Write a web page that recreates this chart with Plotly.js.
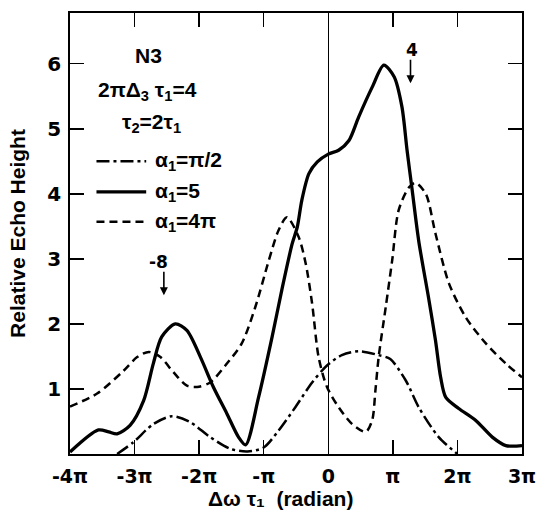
<!DOCTYPE html>
<html>
<head>
<meta charset="utf-8">
<script src="https://cdn.plot.ly/plotly-3.0.1.min.js"></script>
<style>html,body{margin:0;padding:0;background:#fff;}#chart{width:541px;height:512px;}</style>
</head>
<body>
<div id="chart"></div>
<script>
// x values are in units of pi radians (Δω τ1 / π)
const xTickVals = [-4, -3, -2, -1, 0, 1, 2, 3];
const xTickText = ["-4π", "-3π", "-2π", "-π", "0", "π", "2π", "3π"];
const yTickVals = [1, 2, 3, 4, 5, 6];

// α1 = 5 (solid)
const xA5 = [-4.0, -3.56, -3.4, -3.27, -3.07, -2.86, -2.71, -2.58, -2.37, -2.19, -1.98, -1.78, -1.57, -1.39, -1.28, -1.08, -0.87, -0.72, -0.56, -0.48, -0.41, -0.30, -0.17, 0.0, 0.16, 0.32, 0.47, 0.68, 0.86, 1.02, 1.14, 1.22, 1.30, 1.40, 1.56, 1.66, 1.74, 1.82, 2.02, 2.28, 2.54, 2.75, 3.0];
const yA5 = [0.03, 0.37, 0.34, 0.31, 0.44, 0.82, 1.39, 1.80, 2.00, 1.90, 1.49, 1.03, 0.62, 0.26, 0.14, 0.87, 1.80, 2.52, 3.23, 3.49, 3.90, 4.31, 4.49, 4.61, 4.67, 4.82, 5.18, 5.64, 5.98, 5.80, 5.34, 4.67, 4.05, 3.28, 2.36, 1.75, 1.18, 0.87, 0.70, 0.52, 0.26, 0.13, 0.13];

// α1 = 4π (dashed)
const xA4pi = [-4.0, -3.58, -3.17, -2.96, -2.78, -2.60, -2.40, -2.19, -2.03, -1.83, -1.57, -1.34, -1.13, -0.92, -0.77, -0.64, -0.46, -0.35, -0.25, -0.15, -0.02, 0.16, 0.37, 0.58, 0.68, 0.73, 0.78, 0.89, 0.99, 1.09, 1.25, 1.35, 1.51, 1.66, 1.87, 2.13, 2.44, 2.75, 3.0];
const yA4pi = [0.73, 0.93, 1.28, 1.49, 1.57, 1.49, 1.26, 1.05, 1.03, 1.10, 1.39, 1.70, 2.26, 2.98, 3.44, 3.64, 3.34, 2.93, 2.31, 1.49, 1.03, 0.72, 0.46, 0.34, 0.52, 0.98, 1.49, 2.26, 2.98, 3.75, 4.10, 4.17, 4.00, 3.39, 2.62, 2.10, 1.70, 1.39, 1.18];

// α1 = π/2 (dash-dot)
const xApi2 = [-3.27, -3.02, -2.71, -2.42, -2.14, -1.83, -1.52, -1.25, -1.0, -0.77, -0.51, -0.25, -0.02, 0.21, 0.47, 0.78, 0.96, 1.20, 1.40, 1.71, 2.0];
const yApi2 = [0, 0.18, 0.46, 0.58, 0.49, 0.26, 0.08, 0.04, 0.10, 0.36, 0.72, 1.10, 1.36, 1.52, 1.58, 1.52, 1.46, 1.13, 0.72, 0.26, 0];

// arrow markers (in radians): -8 and 4
const arrowRad = [-8, 4];
const arrowLabels = ["-8", "4"];
const arrowTipY = [2.44, 5.70];

const xTitle = "Δω τ₁  (radian)";
const yTitle = "Relative Echo Height";

const FONT = "'Liberation Sans', Arial, sans-serif";
const TICKFONT = "'DejaVu Sans', 'Liberation Sans', sans-serif";
const dashDot = "13px,4px,3px,4px";

const traces = [
  {x: xApi2, y: yApi2, mode: "lines", name: "α<sub>1</sub>=π/2",
   line: {color: "#000", width: 2.5, dash: dashDot, shape: "spline", smoothing: 0.8}},
  {x: xA5, y: yA5, mode: "lines", name: "α<sub>1</sub>=5",
   line: {color: "#000", width: 3.3, shape: "spline", smoothing: 0.8}},
  {x: xA4pi, y: yA4pi, mode: "lines", name: "α<sub>1</sub>=4π",
   line: {color: "#000", width: 2.5, dash: "8px,5px", shape: "spline", smoothing: 0.8}}
];

const annotations = [];
// Arrows
arrowRad.forEach((r, i) => {
  annotations.push({x: r / Math.PI, y: arrowTipY[i], xref: "x", yref: "y",
    ax: 0, ay: -25, showarrow: true, arrowhead: 2, arrowsize: 1, arrowwidth: 1.6,
    arrowcolor: "#000", text: ""});
  annotations.push({x: r / Math.PI, y: arrowTipY[i], xref: "x", yref: "y",
    yshift: 33, xshift: i === 0 ? -5 : 1, showarrow: false, text: arrowLabels[i],
    font: {family: TICKFONT, size: 17, color: "#000", weight: "bold"}});
});
// Text block
const textFont = {family: FONT, size: 21, color: "#000", weight: "bold"};
annotations.push({x: -2.78, y: 6.12, xref: "x", yref: "y", showarrow: false, text: "N3", font: textFont});
annotations.push({x: -2.80, y: 5.58, xref: "x", yref: "y", showarrow: false,
  text: "2πΔ<sub>3</sub> τ<sub>1</sub>=4", font: textFont});
annotations.push({x: -2.74, y: 5.09, xref: "x", yref: "y", showarrow: false,
  text: "τ<sub>2</sub>=2τ<sub>1</sub>", font: textFont});

// Legend keys
const legY = [4.50, 4.03, 3.57];
const legDash = [dashDot, "solid", "8px,5px"];
const legW = [2.5, 3.3, 2.5];
const shapes = [];
traces.forEach((t, i) => {
  shapes.push({type: "line", xref: "x", yref: "y", x0: -3.59, x1: -2.82, y0: legY[i], y1: legY[i],
    line: {color: "#000", width: legW[i], dash: legDash[i]}});
  annotations.push({x: -2.71, y: legY[i], xref: "x", yref: "y", xanchor: "left", showarrow: false,
    text: t.name, font: textFont});
});

// x-axis title (placed as paper annotation below tick labels)
annotations.push({x: 0.465, y: -0.102, xref: "paper", yref: "paper", showarrow: false,
  xanchor: "center", yanchor: "middle", text: xTitle,
  font: {family: FONT, size: 21, color: "#000", weight: "bold"}});

const layout = {
  width: 541, height: 512,
  margin: {l: 70, r: 19, t: 13, b: 58},
  paper_bgcolor: "#fff", plot_bgcolor: "#fff",
  showlegend: false,
  font: {family: FONT, color: "#000"},
  xaxis: {
    range: [-4, 3], tickvals: xTickVals, ticktext: xTickText,
    ticks: "inside", ticklen: 14, tickwidth: 1.5, tickcolor: "#000",
    showline: true, linecolor: "#000", linewidth: 1.8, mirror: "ticks",
    showgrid: false, zeroline: true, zerolinecolor: "#000", zerolinewidth: 1.2,
    ticklabelstandoff: 4,
    tickfont: {family: TICKFONT, size: 19, color: "#000", weight: "bold"}
  },
  yaxis: {
    range: [0, 6.78], tickvals: yTickVals,
    ticks: "inside", ticklen: 14, tickwidth: 1.5, tickcolor: "#000",
    showline: true, linecolor: "#000", linewidth: 1.8, mirror: "ticks",
    showgrid: false, zeroline: false,
    ticklabelstandoff: 3,
    tickfont: {family: TICKFONT, size: 20, color: "#000", weight: "bold"},
    title: {text: yTitle, standoff: 16,
            font: {family: FONT, size: 21, color: "#000", weight: "bold"}}
  },
  annotations: annotations,
  shapes: shapes
};

Plotly.newPlot("chart", traces, layout, {displayModeBar: false, staticPlot: true});
</script>
</body>
</html>
